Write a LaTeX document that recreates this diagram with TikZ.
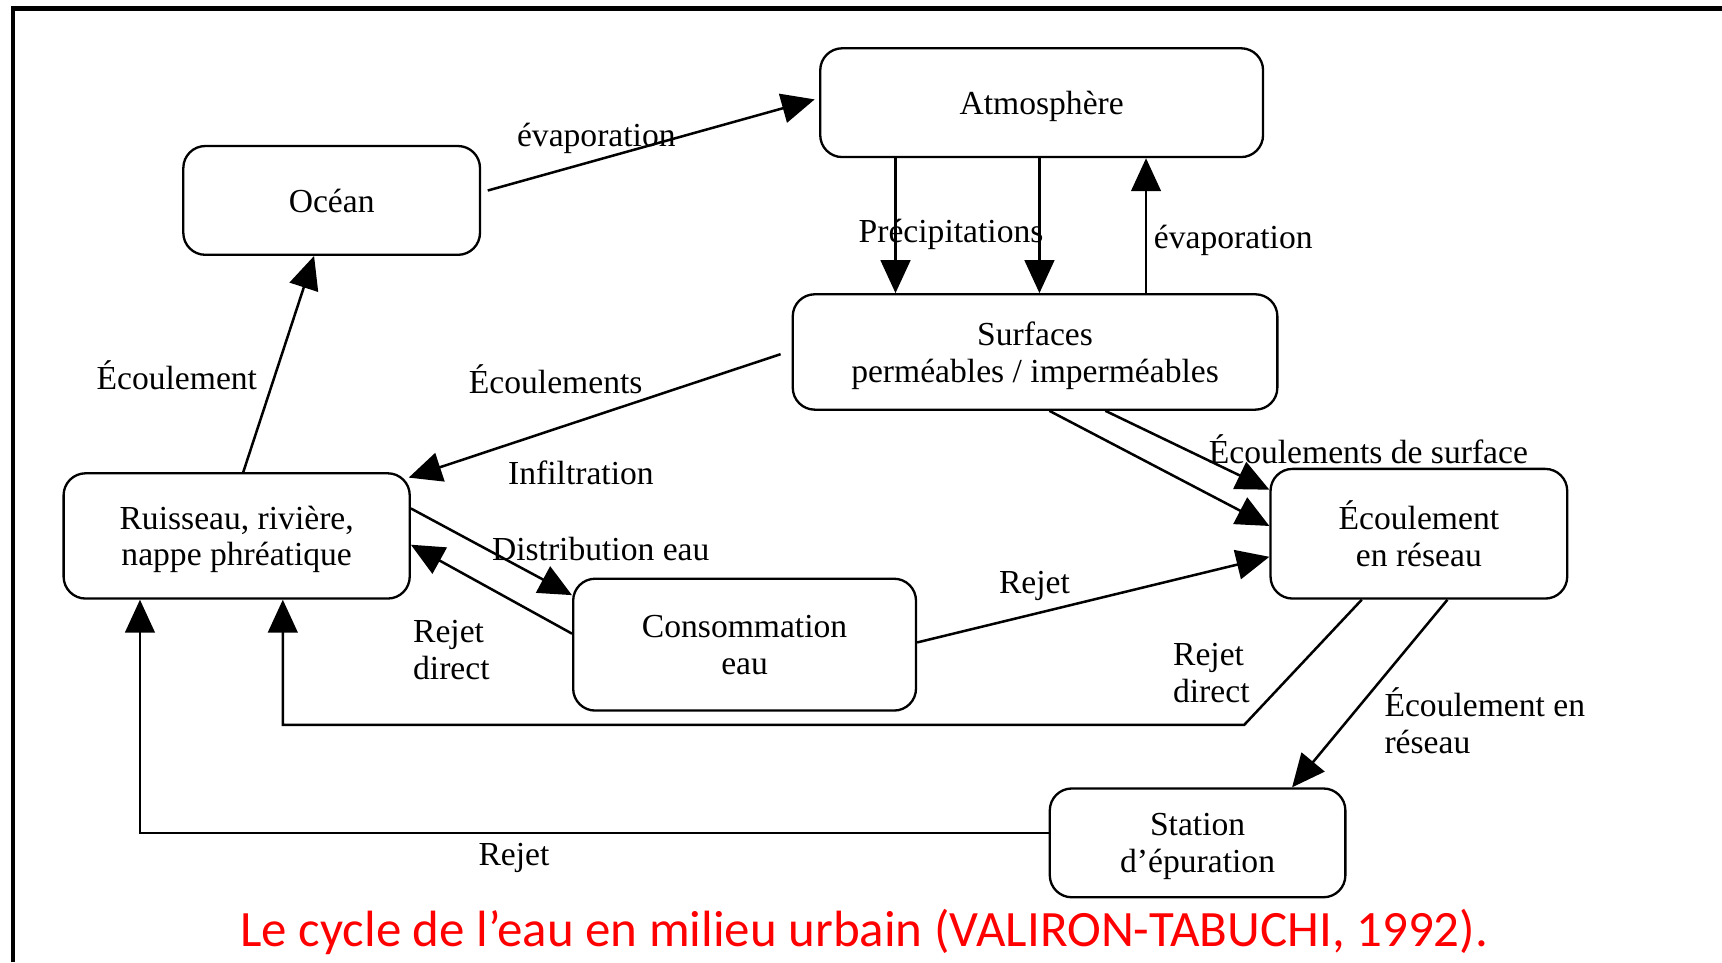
\documentclass[tikz,border=0pt]{standalone}
\usepackage{fontspec}
\setmainfont{Liberation Serif}
\newfontfamily\capfont{Carlito}
\usepackage{tikz}
\usetikzlibrary{arrows.meta}

\begin{document}
\begin{tikzpicture}[
    x=0.01cm, y=-0.01cm,
    font=\fontsize{8.7}{9.5}\selectfont,
    block/.style={rectangle, draw, rounded corners=0.2cm, align=center, line width=0.6pt, text depth=0pt},
    arrow/.style={-{Triangle[length=0.3cm, width=0.27cm]}, line width=0.65pt},
    lbl/.style={inner sep=0pt, align=left}
]
    \useasboundingbox (0,0) rectangle (1568,876);
    \draw[line width=1.2pt] (12,876) -- (12,8) -- (1568,8);

    \node[block, minimum width=4.03cm, minimum height=0.99cm] (atm) at (948.5,93.5) {Atmosphère};
    \node[block, minimum width=2.70cm, minimum height=0.99cm] (ocean) at (302,182.5) {Océan};
    \node[block, minimum width=4.41cm, minimum height=1.05cm] (surf) at (942.5,320.5) {Surfaces\\perméables / imperméables};
    \node[block, minimum width=3.15cm, minimum height=1.14cm] (ruis) at (215.5,488) {Ruisseau, rivière,\\nappe phréatique};
    \node[block, minimum width=2.70cm, minimum height=1.18cm] (res) at (1292,486) {Écoulement\\en réseau};
    \node[block, minimum width=3.12cm, minimum height=1.20cm] (conso) at (678,587) {Consommation\\eau};
    \node[block, minimum width=2.69cm, minimum height=0.99cm] (stat) at (1090.5,767.5) {Station\\d’épuration};

    \coordinate (precipA) at ([xshift=-1.33cm]atm.south);
    \coordinate (precipB) at ([xshift=-0.02cm]atm.south);
    \coordinate (evapUp) at ([xshift=0.95cm]atm.south);
    \coordinate (bend) at (1133,660);

    \draw[arrow] ([shift={(6,-9)}]ocean.east) -- ([shift={(-4,-3)}]atm.west);
    \draw[arrow] (precipA) -- (precipA |- surf.north);
    \draw[arrow] (precipB) -- (precipB |- surf.north);
    \draw[arrow] (evapUp |- surf.north) -- (evapUp);
    \draw[arrow] ([xshift=-0.1cm, yshift=-0.02cm]surf.west) -- ([shift={(-2,5)}]ruis.north east);
    \draw[arrow] ([xshift=0.06cm]ruis.north) -- ([xshift=-0.16cm]ocean.south);
    \draw[arrow] ([yshift=0.25cm]ruis.east) -- ([yshift=-0.16cm]conso.north west);
    \draw[arrow] ([yshift=0.1cm]conso.west) -- ([yshift=-0.08cm]ruis.east);
    \draw[arrow] ([xshift=0.13cm]surf.south) -- ([yshift=-0.53cm]res.north west);
    \draw[arrow] ([xshift=0.64cm]surf.south) -- ([yshift=-0.2cm]res.north west);
    \draw[arrow] ([yshift=0.02cm]conso.east) -- ([yshift=-0.21cm]res.west);
    \draw[arrow] ([xshift=-0.52cm]res.south) -- (bend) -| ([xshift=0.42cm]ruis.south);
    \draw[arrow] ([xshift=0.26cm]res.south) -- ([xshift=0.86cm]stat.north);
    \draw[arrow] ([yshift=0.09cm]stat.west) -| ([xshift=-0.88cm]ruis.south);

    \node[lbl] (evapO) at (543,126) {évaporation};
    \node[lbl] (precip) at (866,213) {Précipitations};
    \node[lbl] (evapS) at (1123,219) {évaporation};
    \node[lbl] (ecoulO) at (161,342) {Écoulement};
    \node[lbl] (ecoulS) at (506,345) {Écoulements};
    \node[lbl] (infil) at (529,431) {Infiltration};
    \node[lbl] (distrib) at (547,500) {Distribution eau};
    \node[lbl] (rejetC) at (411,592) {Rejet\\direct};
    \node[lbl] (ecoulSurf) at (1246,409) {Écoulements de surface};
    \node[lbl] (rejetR) at (942,534) {Rejet};
    \node[lbl] (rejetD) at (1103,613) {Rejet\\direct};
    \node[lbl, anchor=west] (ecoulRes) at (1260,656) {Écoulement en\\réseau};
    \node[lbl] (rejetS) at (468,781) {Rejet};

    \node[text=red, font=\capfont\fontsize{13.2}{15}\selectfont] (caption) at (787,849) {Le cycle de l’eau en milieu urbain (VALIRON-TABUCHI, 1992).};
\end{tikzpicture}
\end{document}
